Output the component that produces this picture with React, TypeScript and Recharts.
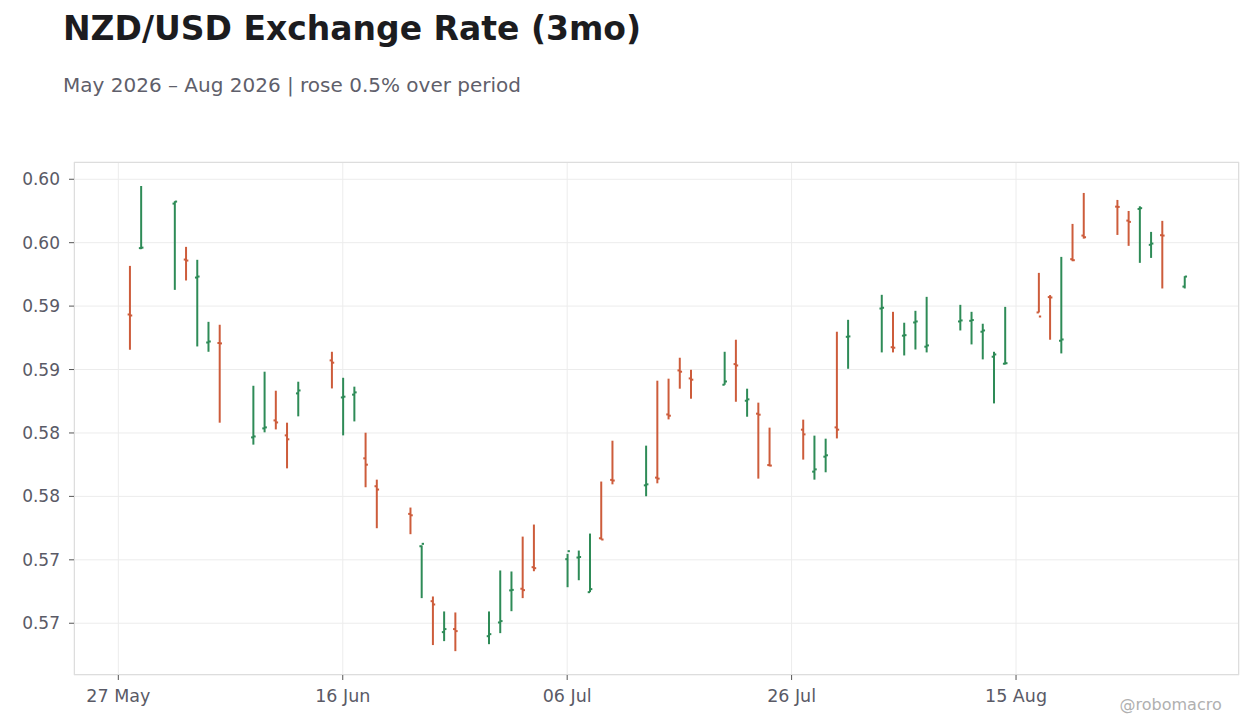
import React from 'react';
import { ComposedChart, Bar, XAxis, YAxis, CartesianGrid } from 'recharts';

const dates = [
  '2026-05-28', '2026-05-29',
  '2026-06-01', '2026-06-02', '2026-06-03', '2026-06-04', '2026-06-05',
  '2026-06-08', '2026-06-09', '2026-06-10', '2026-06-11', '2026-06-12',
  '2026-06-15', '2026-06-16', '2026-06-17', '2026-06-18', '2026-06-19',
  '2026-06-22', '2026-06-23', '2026-06-24', '2026-06-25', '2026-06-26',
  '2026-06-29', '2026-06-30', '2026-07-01', '2026-07-02', '2026-07-03',
  '2026-07-06', '2026-07-07', '2026-07-08', '2026-07-09', '2026-07-10',
  '2026-07-13', '2026-07-14', '2026-07-15', '2026-07-16', '2026-07-17',
  '2026-07-20', '2026-07-21', '2026-07-22', '2026-07-23', '2026-07-24',
  '2026-07-27', '2026-07-28', '2026-07-29', '2026-07-30', '2026-07-31',
  '2026-08-03', '2026-08-04', '2026-08-05', '2026-08-06', '2026-08-07',
  '2026-08-10', '2026-08-11', '2026-08-12', '2026-08-13', '2026-08-14',
  '2026-08-17', '2026-08-18', '2026-08-19', '2026-08-20', '2026-08-21',
  '2026-08-24', '2026-08-25', '2026-08-26', '2026-08-27', '2026-08-28',
  '2026-08-30',
];

const opens = [
  0.59434, 0.59957,
  0.60308, 0.59867, 0.59725, 0.59213, 0.59209,
  0.58465, 0.58536, 0.58599, 0.58481, 0.58812,
  0.59072, 0.5878, 0.58802, 0.583, 0.5808,
  0.57862, 0.57607, 0.57174, 0.5693, 0.56954,
  0.56898, 0.57006, 0.57259, 0.57272, 0.57442,
  0.57505, 0.57518, 0.57245, 0.5767, 0.5813,
  0.58087, 0.58148, 0.58646, 0.58993, 0.5893,
  0.5888, 0.59043, 0.58754, 0.58652, 0.58247,
  0.58526, 0.58195, 0.58313, 0.58544, 0.59258,
  0.59481, 0.59176, 0.59267, 0.59371, 0.5918,
  0.59379, 0.59384, 0.59298, 0.59101, 0.59046,
  0.5945, 0.59571, 0.59227, 0.5987, 0.60056,
  0.60284, 0.60174, 0.60266, 0.59983, 0.60059,
  0.59654,
];

const highs = [
  0.59817, 0.60447,
  0.60327, 0.59967, 0.59865, 0.59376, 0.59353,
  0.58872, 0.58983, 0.58833, 0.58581, 0.58904,
  0.5914, 0.58935, 0.58865, 0.58502, 0.58132,
  0.57912, 0.57613, 0.57211, 0.57093, 0.57085,
  0.57093, 0.57416, 0.57408, 0.57683, 0.57778,
  0.57547, 0.57573, 0.57707, 0.58117, 0.58439,
  0.584, 0.58912, 0.58928, 0.59093, 0.58998,
  0.5914, 0.59235, 0.58849, 0.58739, 0.58542,
  0.58605, 0.58479, 0.58455, 0.59298, 0.59392,
  0.59589, 0.59455, 0.59369, 0.59463, 0.59573,
  0.5951, 0.59455, 0.59361, 0.5914, 0.59494,
  0.59762, 0.59587, 0.59888, 0.60148, 0.60392,
  0.60337, 0.6025, 0.60287, 0.60085, 0.60172,
  0.59736,
];

const lows = [
  0.59156, 0.59949,
  0.59628, 0.59702, 0.59182, 0.5914, 0.58581,
  0.58408, 0.58505, 0.58528, 0.58221, 0.58631,
  0.58851, 0.58481, 0.58591, 0.58072, 0.57749,
  0.57702, 0.57198, 0.56828, 0.56859, 0.5678,
  0.56835, 0.56922, 0.57095, 0.57198, 0.5741,
  0.57284, 0.57339, 0.57245, 0.5766, 0.58095,
  0.58001, 0.58103, 0.58607, 0.58849, 0.5877,
  0.5888, 0.58746, 0.58628, 0.5814, 0.58237,
  0.5829, 0.58132, 0.5819, 0.58457, 0.59006,
  0.59135, 0.59135, 0.59111, 0.59158, 0.59135,
  0.59308, 0.59198, 0.5908, 0.58733, 0.5904,
  0.5945, 0.59235, 0.59127, 0.59854, 0.60032,
  0.60061, 0.59975, 0.59841, 0.5988, 0.59639,
  0.59639,
];

const closes = [
  0.59426, 0.59961,
  0.60324, 0.59859, 0.59733, 0.59221, 0.59206,
  0.58473, 0.58544, 0.58583, 0.5845, 0.58835,
  0.59054, 0.58786, 0.5882, 0.5825, 0.58054,
  0.57851, 0.57626, 0.57148, 0.56954, 0.56938,
  0.56914, 0.57017, 0.57263, 0.57261, 0.57434,
  0.57568, 0.57522, 0.57269, 0.5766, 0.58125,
  0.58095, 0.5814, 0.58636, 0.58983, 0.5892,
  0.58906, 0.59032, 0.58765, 0.58644, 0.58243,
  0.58489, 0.58213, 0.58324, 0.58526, 0.59261,
  0.59487, 0.59172, 0.59271, 0.59379, 0.5919,
  0.59387, 0.5939, 0.59308, 0.59119, 0.5905,
  0.59418, 0.59568, 0.59237, 0.59862, 0.60043,
  0.60282, 0.60164, 0.60272, 0.59993, 0.60056,
  0.59733,
];

const xTickDates = ['2026-05-27', '2026-06-16', '2026-07-06', '2026-07-26', '2026-08-15'];
const xTickLabels = ['27 May', '16 Jun', '06 Jul', '26 Jul', '15 Aug'];
const yTicks = [0.57, 0.575, 0.58, 0.585, 0.59, 0.595, 0.6, 0.605];

const UP = '#2e8b57';
const DOWN = '#cd5c3b';
const FONT = '"DejaVu Sans", Verdana, sans-serif';

const BASE = Date.parse('2026-05-27T00:00:00Z');
const dayIndex = (d: string) => Math.round((Date.parse(d + 'T00:00:00Z') - BASE) / 86400000);

const rows = dates.map((d, i) => ({
  day: dayIndex(d),
  open: opens[i],
  high: highs[i],
  low: lows[i],
  close: closes[i],
}));

const xTicks = xTickDates.map(dayIndex);
const xLabelMap: Record<number, string> = {};
xTicks.forEach((t, i) => { xLabelMap[t] = xTickLabels[i]; });

const OhlcShape = (props: any) => {
  const { x, y, width, height, payload } = props;
  if (x == null || y == null || !payload) return null;
  const cx = x + width / 2;
  const top = Math.min(y, y + height);
  const bottom = Math.max(y, y + height);
  const span = payload.high - payload.low;
  const k = span > 0 ? (bottom - top) / span : 0;
  const yO = top + (payload.high - payload.open) * k;
  const yC = top + (payload.high - payload.close) * k;
  const color = payload.close >= payload.open ? UP : DOWN;
  return (
    <g>
      <line x1={cx} x2={cx} y1={top} y2={bottom} stroke={color} strokeWidth={2} />
      <line x1={cx - 2.3} x2={cx} y1={yO} y2={yO} stroke={color} strokeWidth={2} />
      <line x1={cx} x2={cx + 2.3} y1={yC} y2={yC} stroke={color} strokeWidth={2} />
    </g>
  );
};

export default function App() {
  return (
    <div style={{ position: 'absolute', left: 0, top: 0, width: 1260, height: 728, background: '#fff', fontFamily: FONT, overflow: 'hidden' }}>
      <div style={{ position: 'absolute', left: 63, top: 12.1, fontSize: 33, lineHeight: '33px', fontWeight: 'bold', color: '#1c1c1f', whiteSpace: 'nowrap' }}>
        NZD/USD Exchange Rate (3mo)
      </div>
      <div style={{ position: 'absolute', left: 63, top: 75.4, fontSize: 20, lineHeight: '20px', color: '#5f5f6b', whiteSpace: 'nowrap' }}>
        May 2026 – Aug 2026 | rose 0.5% over period
      </div>
      <ComposedChart
        width={1260}
        height={728}
        data={rows}
        margin={{ top: 162, right: 21, bottom: 0, left: 0 }}
      >
        <CartesianGrid stroke="#ececec" strokeWidth={1} />
        <XAxis
          dataKey="day"
          type="number"
          domain={[-3.95, 99.87]}
          ticks={xTicks}
          tickFormatter={(v: number) => xLabelMap[v] ?? ''}
          height={53}
          axisLine={false}
          tickLine={{ stroke: '#555', strokeWidth: 1 }}
          tickSize={5}
          tickMargin={10}
          tick={{ fontSize: 17.5, fill: '#5a5a66', fontFamily: FONT }}
          allowDataOverflow
        />
        <YAxis
          type="number"
          domain={[0.56592, 0.60636]}
          ticks={yTicks}
          tickFormatter={(v: number) => v.toFixed(2)}
          width={74}
          axisLine={false}
          tickLine={{ stroke: '#555', strokeWidth: 1 }}
          tickSize={5}
          tickMargin={9}
          tick={{ fontSize: 17, fill: '#5a5a66', fontFamily: FONT }}
          allowDataOverflow
        />
        <Bar
          dataKey={(d: any) => [d.low, d.high]}
          barSize={6}
          shape={OhlcShape}
          isAnimationActive={false}
        />
      </ComposedChart>
      <div style={{ position: 'absolute', left: 74, top: 162, width: 1165, height: 513, border: '1px solid #dddddd', boxSizing: 'border-box', pointerEvents: 'none' }} />
      <div style={{ position: 'absolute', right: 38.3, top: 696.5, fontSize: 16, lineHeight: '16px', color: '#b0b0b0', whiteSpace: 'nowrap' }}>
        @robomacro
      </div>
    </div>
  );
}
